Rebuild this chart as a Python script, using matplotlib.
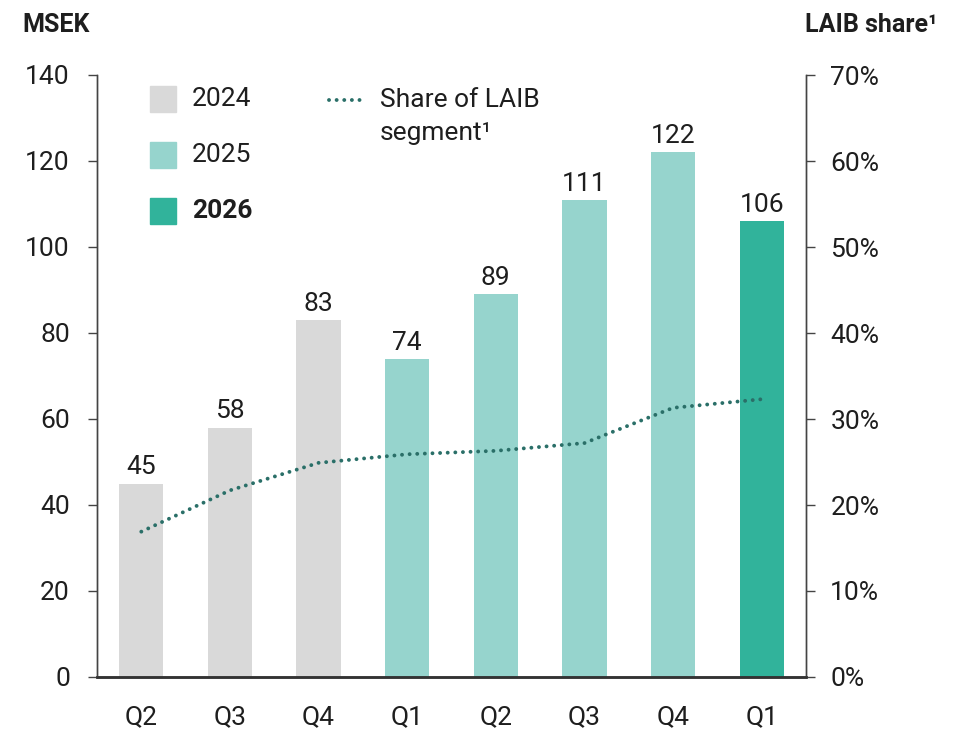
import matplotlib
matplotlib.use("Agg")
import matplotlib.pyplot as plt
from matplotlib.patches import Rectangle
from matplotlib.lines import Line2D

quarters = ["Q2", "Q3", "Q4", "Q1", "Q2", "Q3", "Q4", "Q1"]
years = ["2024", "2024", "2024", "2025", "2025", "2025", "2025", "2026"]
msek = [45, 58, 83, 74, 89, 111, 122, 106]
share = [16.9, 21.7, 24.9, 25.9, 26.3, 27.2, 31.3, 32.3]
legend_years = ["2024", "2025", "2026"]
year_colors = {"2024": "#d9d9d9", "2025": "#96d4cd", "2026": "#31b39b"}
line_label = "Share of LAIB\nsegment¹"
line_color = "#2a6f68"
text_color = "#1e1e1e"

plt.rcParams['font.family'] = ['Roboto', 'DejaVu Sans']
FS = 19

W, H = 961, 729
fig = plt.figure(figsize=(W/100, H/100), dpi=100)
ax = fig.add_axes([97/W, 1-677/H, 709/W, 602/H])
ax2 = ax.twinx()

def fx(px):
    return px / W

def fy(py):
    return 1 - py / H

x = list(range(len(msek)))
colors = [year_colors[y] for y in years]
ax.bar(x, msek, width=0.5, color=colors, zorder=2)
for xi, v in zip(x, msek):
    ax.annotate(str(v), (xi, v), xytext=(0, 3), textcoords="offset points",
                ha="center", va="bottom", fontsize=FS, color=text_color)

ax.set_xlim(-0.5, 7.5)
ax.set_ylim(0, 140)
ax.set_yticks(range(0, 141, 20))
ax.set_xticks(x)
ax.set_xticklabels(quarters)

ax2.set_ylim(0, 70)
ax2.set_yticks(range(0, 71, 10))
ax2.set_yticklabels([f"{v}%" for v in range(0, 71, 10)])
dot_style = (0, (0.01, 1.95))
ax2.plot(x, share, linestyle=dot_style, dash_capstyle="round", lw=2.8,
         color=line_color, zorder=3)

spine_c = "#444444"
for a in (ax, ax2):
    a.spines["top"].set_visible(False)
    a.spines["left"].set_color(spine_c)
    a.spines["right"].set_color(spine_c)
    a.spines["bottom"].set_color("#333333")
    a.spines["bottom"].set_linewidth(1.8)
    a.spines["left"].set_linewidth(1.0)
    a.spines["right"].set_linewidth(1.0)
ax.tick_params(axis="y", direction="out", length=6.5, width=1.0, color=spine_c,
               labelsize=FS, labelcolor=text_color, pad=13)
ax2.tick_params(axis="y", direction="out", length=6.5, width=1.0, color=spine_c,
                labelsize=FS, labelcolor=text_color, pad=11)
ax.tick_params(axis="x", length=0, labelsize=FS, labelcolor=text_color, pad=20)

fig.text(fx(22), fy(25), "MSEK", fontsize=18, fontweight="bold", color=text_color,
         ha="left", va="center")
fig.text(fx(937), fy(25), "LAIB share¹", fontsize=18, fontweight="bold",
         color=text_color, ha="right", va="center")

# legend: year swatches
for i, yr in enumerate(legend_years):
    cy = 99 + 56 * i
    fig.patches.append(Rectangle((fx(150), fy(cy + 13)), 26/W, 26/H,
                                 transform=fig.transFigure, color=year_colors[yr]))
    fig.text(fx(192), fy(cy), yr, fontsize=FS, color=text_color, ha="left",
             va="center", fontweight="bold" if yr == "2026" else "normal")

# legend: share line
fig.lines.append(Line2D([fx(329), fx(365)], [fy(100), fy(100)],
                        transform=fig.transFigure, linestyle=dot_style,
                        dash_capstyle="round", lw=2.8, color=line_color))
fig.text(fx(380), fy(100), line_label.split("\n")[0], fontsize=FS,
         color=text_color, ha="left", va="center")
fig.text(fx(380), fy(133), line_label.split("\n")[1], fontsize=FS,
         color=text_color, ha="left", va="center")

fig.savefig("out.png", dpi=100)
